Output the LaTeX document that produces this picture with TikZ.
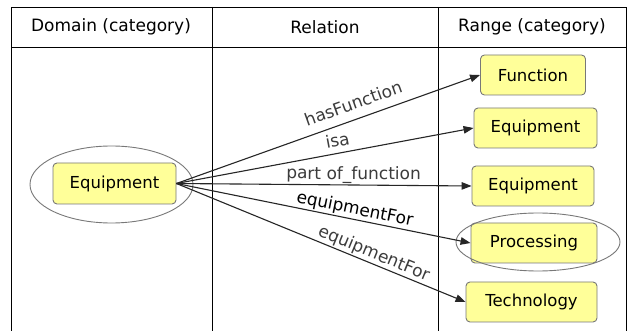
\documentclass[tikz,border=0pt]{standalone}
\usepackage{fontspec}
\setmainfont{DejaVu Sans}
\usetikzlibrary{positioning, arrows.meta, shapes.geometric}

\definecolor{catfill}{RGB}{255,255,153}
\definecolor{catline}{RGB}{120,120,120}
\definecolor{reltext}{RGB}{60,60,60}

\begin{document}
\begin{tikzpicture}[x=1pt, y=-1pt,
        catbox/.style={draw=catline, fill=catfill, rounded corners=4pt,
                       line width=0.9pt, inner sep=0pt,
                       font=\fontsize{16.5}{18}\selectfont},
        catring/.style={draw=catline, ellipse, line width=0.9pt, inner sep=0pt},
        relarrow/.style={-{Triangle[length=10pt, width=7.5pt]}, line width=1.1pt, black!85},
        rellabel/.style={sloped, above, inner sep=2pt, text=reltext,
                         font=\fontsize{17}{19}\selectfont},
        header/.style={font=\fontsize{17}{19}\selectfont}]
    \useasboundingbox[fill=white] (0,0) rectangle (635,331);

    % table
    \draw[line width=0.8pt] (11,331) -- (11,7) -- (626,7) -- (626,331);
    \draw[line width=0.8pt] (11,47) -- (626,47);
    \draw[line width=0.8pt] (212,7) -- (212,331);
    \draw[line width=0.8pt] (438,7) -- (438,331);
    \node[header] (hdom) at (111,27) {Domain (category)};
    \node[header] (hrel) at (325,27) {Relation};
    \node[header] (hran) at (532,27) {Range (category)};

    % domain
    \node[catring, minimum width=163pt, minimum height=77pt] (domring) at (111.5,184.5) {};
    \node[catbox, minimum width=123pt, minimum height=41pt] (dom) at (114.5,183.5) {Equipment};

    % range
    \node[catbox, minimum width=105pt, minimum height=40pt] (fun)  at (533,75)    {Function};
    \node[catbox, minimum width=123pt, minimum height=40pt] (eqa)  at (535.5,128) {Equipment};
    \node[catbox, minimum width=122pt, minimum height=40pt] (eqb)  at (533,186)   {Equipment};
    \node[catbox, minimum width=126pt, minimum height=40pt] (proc) at (534,243)   {Processing};
    \node[catring, minimum width=164pt, minimum height=58pt] (procring) at (538,242) {};
    \node[catbox, minimum width=131pt, minimum height=40pt] (tech) at (531.5,302) {Technology};

    % relations
    \draw[relarrow] (dom.east) -- (fun.west)
        node[rellabel, pos=0.6, inner sep=9pt] {hasFunction};
    \draw[relarrow] (dom.east) -- (eqa.west)
        node[rellabel, pos=0.55, inner sep=6pt] {isa};
    \draw[relarrow] (dom.east) -- (eqb.west)
        node[rellabel, pos=0.6, inner sep=1pt] {part of\_function};
    \draw[relarrow] (dom.east) -- (proc.west)
        node[rellabel, pos=0.6, inner sep=1pt, text=black] {equipmentFor};
    \draw[relarrow] (dom.east) -- (tech.west)
        node[rellabel, pos=0.67, inner sep=1pt] {equipmentFor};
\end{tikzpicture}
\end{document}
